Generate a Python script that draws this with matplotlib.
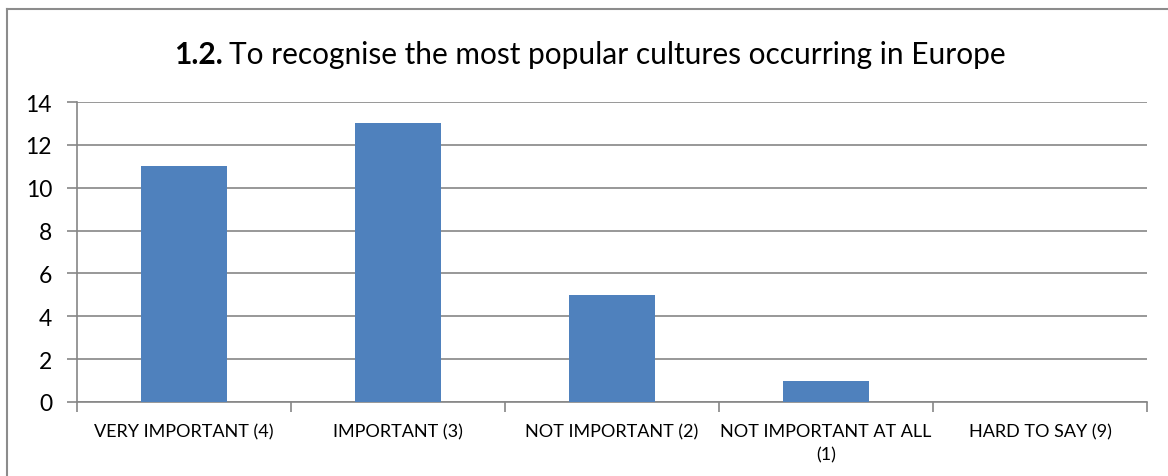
import matplotlib
matplotlib.use("Agg")
import matplotlib.pyplot as plt
from matplotlib.lines import Line2D

categories = ["VERY IMPORTANT (4)", "IMPORTANT (3)", "NOT IMPORTANT (2)",
              "NOT IMPORTANT AT ALL\n(1)", "HARD TO SAY (9)"]
values = [11, 13, 5, 1, 0]
yticks = [0, 2, 4, 6, 8, 10, 12, 14]

FONT = "Lato"
plt.rcParams['font.family'] = [FONT, 'DejaVu Sans']

fig = plt.figure(figsize=(11.68, 4.77), dpi=100)
ax = fig.add_axes([77/1168, 1 - 403/477, (1147-77)/1168, (403-103)/477])

grey = "#868686"
x = list(range(len(categories)))
ax.bar(x, values, width=0.4, color="#4f81bd", zorder=3)
ax.set_xlim(-0.5, len(categories) - 0.5)
ax.set_ylim(0, 14)
ax.set_yticks(yticks)
ax.set_yticklabels([str(v) for v in yticks], fontsize=16.5)
ax.yaxis.grid(True, color=grey, linewidth=1.2, zorder=0)
ax.set_axisbelow(True)

ax.set_xticks([i - 0.5 for i in range(len(categories) + 1)])
ax.set_xticklabels([])
ax.set_xticks(x, minor=True)
ax.set_xticklabels(categories, minor=True, fontsize=13, linespacing=1.55)
ax.tick_params(axis='x', which='minor', length=0, pad=15)
ax.tick_params(axis='x', which='major', length=7, color=grey, width=1.2)
ax.tick_params(axis='y', length=7, color=grey, width=1.2, pad=11)

for s in ["top", "right"]:
    ax.spines[s].set_visible(False)
for s in ["left", "bottom"]:
    ax.spines[s].set_color(grey)
    ax.spines[s].set_linewidth(1.2)

title_y = 1 - 55/477
t1 = fig.text(0, title_y, "1.2.", fontsize=21.5, fontweight="bold",
              va="center", ha="left")
t2 = fig.text(0, title_y,
              "To recognise the most popular cultures occurring in Europe",
              fontsize=21.5, va="center", ha="left")
fig.canvas.draw()
w1 = t1.get_window_extent().width
w2 = t2.get_window_extent().width
gap = 6
total = w1 + gap + w2
x0 = 590 - total / 2
t1.set_x(x0 / 1168)
t2.set_x((x0 + w1 + gap) / 1168)

# chart border (top and left visible)
fig.add_artist(Line2D([7/1168, 1.0], [1 - 10/477, 1 - 10/477],
                      transform=fig.transFigure, color="#8c8c8c", linewidth=1.5))
fig.add_artist(Line2D([7/1168, 7/1168], [0, 1 - 10/477],
                      transform=fig.transFigure, color="#8c8c8c", linewidth=1.5))

fig.savefig("out.png", dpi=100)
